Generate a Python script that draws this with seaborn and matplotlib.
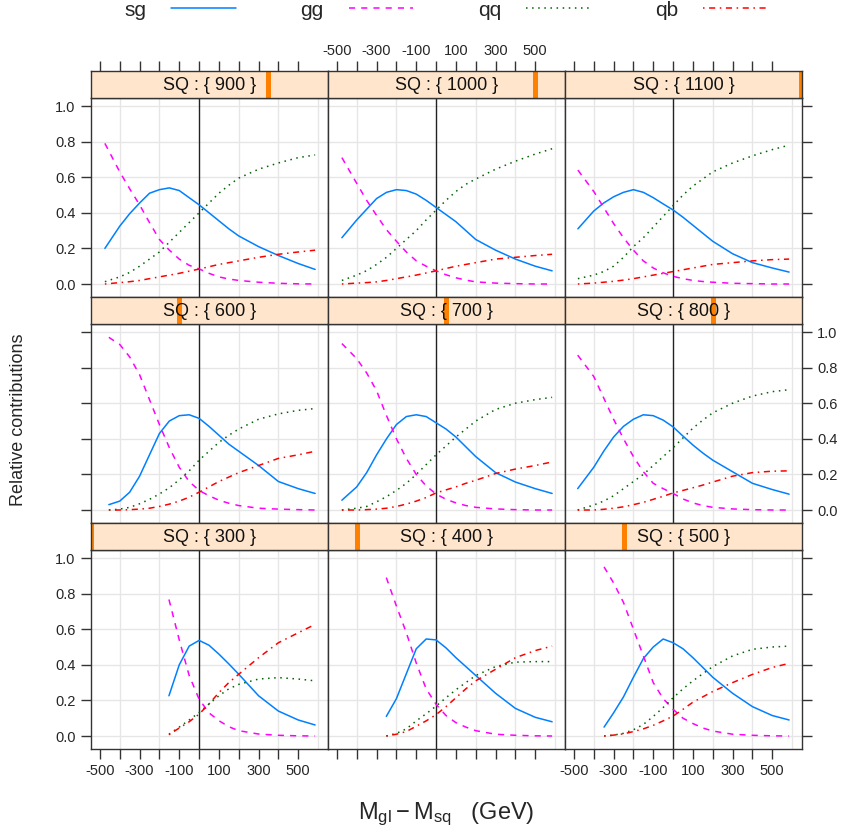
import numpy as np
import pandas as pd
import seaborn as sns
import matplotlib.pyplot as plt
from matplotlib.patches import Rectangle

sns.set_style("white")
plt.rcParams["font.family"] = ["Liberation Sans", "DejaVu Sans"]
plt.rcParams["mathtext.fontset"] = "custom"
plt.rcParams["mathtext.rm"] = "Liberation Sans"
plt.rcParams["mathtext.it"] = "Liberation Sans:italic"

# niveles de squark (orden de los paneles, de abajo hacia arriba)
squark = [300, 400, 500, 600, 700, 800, 900, 1000, 1100]
procesos = ["sg", "gg", "qq", "qb"]
colores = {"sg": "#0080ff", "gg": "#ff00ff", "qq": "#006400", "qb": "#ff0000"}
lineas = {"sg": "", "gg": (4, 4), "qq": (1, 3), "qb": (1, 3, 4, 3)}

# M_gl - M_sq para cada panel
resto = [-400, -350, -300, -250, -200, -150, -100, -50, 0, 50, 100, 150,
         200, 300, 400, 500, 585]
dm = {
    300: [-152, -100, -50, 0, 50, 100, 150, 200, 300, 400, 500, 585],
    400: [-251, -200, -150, -100, -50, 0, 50, 100, 150, 200, 300, 400, 500, 585],
    500: [-348, -300, -250, -200, -150, -100, -50, 0, 50, 100, 150, 200,
          300, 400, 500, 585],
    600: [-455] + resto,
    700: [-475] + resto,
    800: [-481] + resto,
    900: [-475] + resto,
    1000: [-475] + resto,
    1100: [-480] + resto,
}

sg = {
    300: [.226, .40, .505, .537, .51, .46, .405, .347, .226, .14, .09, .062],
    400: [.11, .21, .35, .49, .545, .54, .495, .44, .39, .34, .24, .155, .105, .08],
    500: [.05, .13, .22, .33, .435, .50, .545, .524, .49, .44, .385, .33, .24,
          .165, .115, .09],
    600: [.03, .05, .10, .19, .31, .43, .50, .53, .535, .515, .47, .42, .37,
          .33, .25, .16, .12, .093],
    700: [.055, .13, .21, .31, .40, .48, .525, .535, .525, .49, .455, .41, .355,
          .30, .21, .157, .12, .093],
    800: [.12, .24, .33, .41, .47, .51, .535, .53, .505, .467, .415, .365, .32,
          .28, .215, .15, .115, .089],
    900: [.20, .325, .395, .455, .51, .53, .54, .525, .485, .445, .40, .355, .31,
          .27, .21, .16, .115, .082],
    1000: [.26, .36, .42, .48, .515, .53, .525, .505, .47, .43, .39, .35, .30,
           .25, .19, .14, .10, .074],
    1100: [.31, .41, .455, .49, .515, .53, .515, .485, .45, .416, .375, .33, .285,
           .24, .17, .12, .09, .067],
}

gg = {
    300: [.767, .54, .34, .207, .13, .086, .052, .03, .011, .004, .001, 0],
    400: [.89, .73, .58, .41, .265, .178, .115, .075, .05, .03, .01, .004, .001, 0],
    500: [.95, .86, .75, .60, .45, .30, .21, .15, .10, .07, .045, .028, .01,
          .004, .001, 0],
    600: [.97, .93, .86, .76, .62, .48, .35, .24, .16, .11, .08, .055, .038,
          .025, .01, .005, .002, 0],
    700: [.935, .85, .77, .67, .53, .40, .29, .20, .135, .09, .06, .04, .025,
          .015, .006, .002, 0, 0],
    800: [.87, .75, .63, .51, .40, .30, .215, .15, .12, .093, .062, .04, .025,
          .015, .006, .002, 0, 0],
    900: [.79, .63, .535, .445, .345, .25, .19, .14, .105, .085, .06, .04, .028,
          .02, .01, .004, .001, 0],
    1000: [.71, .565, .47, .385, .305, .24, .18, .13, .10, .074, .052, .035, .022,
           .012, .005, .002, 0, 0],
    1100: [.64, .52, .43, .34, .26, .19, .13, .09, .063, .043, .03, .02, .014,
           .01, .004, .002, 0, 0],
}

qq = {
    300: [.01, .05, .09, .132, .18, .226, .265, .29, .32, .328, .32, .31],
    400: [0, .015, .04, .085, .125, .168, .215, .26, .30, .34, .39, .415, .418, .418],
    500: [0, .005, .015, .035, .065, .11, .16, .215, .265, .31, .35, .39, .45,
          .487, .50, .505],
    600: [0, .005, .015, .035, .06, .09, .125, .17, .22, .28, .33, .38, .42,
          .455, .51, .54, .56, .57],
    700: [0, .01, .02, .046, .075, .11, .15, .20, .255, .31, .36, .41, .455,
          .50, .565, .60, .62, .633],
    800: [0, .028, .05, .08, .12, .16, .20, .25, .30, .35, .405, .46, .505,
          .546, .60, .64, .665, .676],
    900: [.013, .04, .065, .10, .14, .18, .235, .29, .345, .40, .455, .51, .555,
          .595, .645, .68, .71, .725],
    1000: [.02, .05, .075, .11, .15, .20, .25, .30, .36, .415, .47, .52, .56,
           .59, .645, .69, .73, .76],
    1100: [.03, .05, .07, .10, .15, .21, .26, .32, .38, .44, .50, .55, .59,
           .63, .68, .72, .755, .78],
}

qb = {
    300: [.007, .045, .08, .123, .18, .244, .30, .347, .44, .524, .58, .627],
    400: [0, .01, .025, .055, .085, .12, .165, .215, .265, .31, .375, .44, .48, .505],
    500: [0, .005, .012, .025, .04, .06, .085, .112, .15, .19, .22, .25, .30,
          .346, .385, .408],
    600: [0, 0, .002, .005, .01, .02, .033, .05, .072, .10, .13, .16, .185,
          .21, .25, .29, .31, .33],
    700: [0, 0, .002, .005, .01, .02, .033, .05, .07, .096, .113, .13, .15,
          .167, .205, .23, .25, .27],
    800: [0, 0, .004, .01, .018, .03, .043, .06, .077, .096, .11, .125, .14,
          .157, .19, .21, .218, .22],
    900: [0, .008, .013, .02, .03, .04, .05, .06, .072, .084, .097, .11, .12,
          .13, .15, .167, .18, .19],
    1000: [0, .005, .008, .012, .02, .03, .04, .05, .062, .074, .087, .10, .11,
           .12, .14, .15, .16, .167],
    1100: [0, .005, .01, .015, .022, .03, .04, .05, .06, .07, .08, .09, .10,
           .11, .12, .13, .137, .14],
}

# tabla larga para seaborn
filas = []
for sq in squark:
    for p, serie in zip(procesos, [sg, gg, qq, qb]):
        for x, y in zip(dm[sq], serie[sq]):
            filas.append({"SQ": sq, "dM": x, "contrib": y, "process": p})
df = pd.DataFrame(filas)

W, H = 852, 840
fig = plt.figure(figsize=(W / 100, H / 100), dpi=100)

# geometria de los paneles (pixeles)
x0, pw = 91, 237
y0, rh, sh = 71, 226, 27
xlim = (-545, 650)
ylim = (-0.073, 1.045)
borde = "#333333"

def caja(left, top, w, h):
    return [left / W, 1 - (top + h) / H, w / W, h / H]

xt = list(range(-500, 501, 100))
xtl = [str(v) if (v // 100) % 2 else "" for v in xt]
yt = [0, 0.2, 0.4, 0.6, 0.8, 1.0]
ytl = ["%.1f" % v for v in yt]

handles, labels = None, None
for r in range(3):
    for c in range(3):
        sq = squark[(2 - r) * 3 + c]
        top = y0 + r * rh
        # panel
        ax = fig.add_axes(caja(x0 + c * pw, top + sh, pw, rh - sh))
        for v in [-400, -200, 200, 400, 600]:
            ax.axvline(v, color="#e6e6e6", lw=1, zorder=0)
        for v in yt:
            ax.axhline(v, color="#e6e6e6", lw=1, zorder=0)
        ax.axvline(0, color="#222222", lw=1, zorder=1)
        sns.lineplot(data=df[df["SQ"] == sq], x="dM", y="contrib",
                     hue="process", style="process", hue_order=procesos,
                     style_order=procesos, palette=colores, dashes=lineas,
                     estimator=None, lw=1.1, ax=ax, legend=(r == 0 and c == 0),
                     zorder=3)
        if handles is None:
            handles, labels = ax.get_legend_handles_labels()
            ax.get_legend().remove()
        ax.set_xlim(xlim)
        ax.set_ylim(ylim)
        ax.set_xlabel("")
        ax.set_ylabel("")
        ax.set_xticks(xt)
        ax.set_xticklabels(xtl)
        ax.set_yticks(yt)
        ax.set_yticklabels(ytl)
        ax.tick_params(axis="both", direction="out", length=7, width=1,
                       color=borde, labelsize=10.5, pad=4,
                       bottom=(r == 2), labelbottom=(r == 2 and c != 1),
                       top=False, labeltop=False,
                       left=(c == 0), labelleft=(c == 0 and r != 1),
                       right=(c == 2), labelright=(c == 2 and r == 1))
        for s in ax.spines.values():
            s.set_color(borde)
            s.set_linewidth(1)

        # tira superior con el nivel de SQ
        st = fig.add_axes(caja(x0 + c * pw, top, pw, sh))
        st.set_facecolor("#ffe5cc")
        st.set_xlim(0, 1)
        st.set_ylim(0, 1)
        i = squark.index(sq)
        st.add_patch(Rectangle((i / 8 - 0.011, 0), 0.022, 1,
                               color="#ff7f00", lw=0, clip_on=True))
        st.text(0.5, 0.48, "SQ : { %d }" % sq, ha="center", va="center",
                fontsize=13, color="#111111")
        st.set_yticks([])
        if r == 0:
            # eje x superior (escala del panel)
            st2 = st.twiny()
            st2.set_xlim(xlim)
            st2.set_xticks(xt)
            st2.set_xticklabels(xtl)
            st2.tick_params(axis="x", direction="out", length=7, width=1,
                            color=borde, labelsize=10.5, pad=2,
                            labeltop=(c == 1))
            for s in st2.spines.values():
                s.set_visible(False)
        st.set_xticks([])
        for s in st.spines.values():
            s.set_color(borde)
            s.set_linewidth(1)

fig.text(0.022, 0.50, "Relative contributions", rotation=90,
         ha="center", va="center", fontsize=13)
fig.text(446 / W, 1 - 814 / H, r"$\mathrm{M_{gl} - M_{sq}}$   (GeV)",
         ha="center", va="center", fontsize=17)

leg_h = [handles[labels.index(p)] for p in procesos]
fig.legend(leg_h, procesos, loc="center", bbox_to_anchor=(446 / W, 1 - 10 / H),
           ncol=4, frameon=False, markerfirst=False, fontsize=15,
           handlelength=3.1, handletextpad=1.2, columnspacing=3.1,
           borderpad=0, borderaxespad=0)

fig.savefig("out.png", dpi=100)
